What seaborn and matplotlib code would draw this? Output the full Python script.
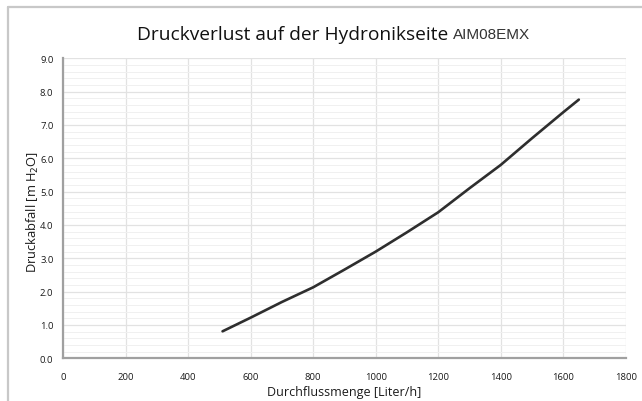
import matplotlib
matplotlib.use("Agg")
import matplotlib.pyplot as plt
from matplotlib.ticker import MultipleLocator, FormatStrFormatter
from matplotlib.lines import Line2D
import pandas as pd
import seaborn as sns

# Pressure drop curve on the hydronic side
flow_lph = [510, 600, 700, 800, 900, 1000, 1100, 1200, 1300, 1400, 1500, 1600, 1650]
pressure_drop_mh2o = [0.81, 1.22, 1.69, 2.13, 2.66, 3.20, 3.78, 4.38, 5.10,
                      5.80, 6.60, 7.38, 7.76]

x_ticks = [0, 200, 400, 600, 800, 1000, 1200, 1400, 1600, 1800]
y_ticks = [0.0, 1.0, 2.0, 3.0, 4.0, 5.0, 6.0, 7.0, 8.0, 9.0]

title_main = "Druckverlust auf der Hydronikseite "
title_model = "AIM08EMX"
x_label = "Durchflussmenge [Liter/h]"
y_label = "Druckabfall [m H$_2$O]"

df = pd.DataFrame({"flow": flow_lph, "drop": pressure_drop_mh2o})

sns.set_theme(style="white")
plt.rcParams["font.family"] = ["Open Sans", "DejaVu Sans"]

fig = plt.figure(figsize=(6.42, 4.02), dpi=100)
fig.patch.set_facecolor("white")
ax = fig.add_axes([0.0984, 0.1062, 0.8762, 0.7463])

# outer chart frame (left and top edges)
frame_kw = dict(transform=fig.transFigure, color="#c8c8c8", linewidth=1.6)
fig.lines.append(Line2D([8 / 642, 8 / 642], [0, 1 - 8 / 402], **frame_kw))
fig.lines.append(Line2D([8 / 642, 1], [1 - 8 / 402, 1 - 8 / 402], **frame_kw))

sns.lineplot(data=df, x="flow", y="drop", ax=ax, color="#2e2e2e",
             linewidth=1.9, legend=False)

ax.set_xlim(x_ticks[0], x_ticks[-1])
ax.set_ylim(y_ticks[0], y_ticks[-1])
ax.set_xticks(x_ticks)
ax.set_yticks(y_ticks)
ax.yaxis.set_major_formatter(FormatStrFormatter("%.1f"))
ax.xaxis.set_minor_locator(MultipleLocator(40))
ax.yaxis.set_minor_locator(MultipleLocator(0.2))

ax.grid(which="major", axis="both", color="#e2e2e2", linewidth=0.9)
ax.grid(which="minor", axis="y", color="#f0f0f0", linewidth=0.7)
ax.set_axisbelow(True)

for side in ["top", "right"]:
    ax.spines[side].set_visible(False)
for side in ["left", "bottom"]:
    ax.spines[side].set_color("#a0a0a0")
    ax.spines[side].set_linewidth(1.6)

ax.tick_params(axis="both", which="both", direction="in", colors="#909090",
               labelcolor="#1a1a1a", labelsize=6.8)
ax.tick_params(axis="both", which="major", length=3, width=1)
ax.tick_params(axis="both", which="minor", length=2, width=0.8)
ax.tick_params(axis="x", pad=10)
ax.tick_params(axis="y", pad=7)

ax.set_xlabel(x_label, fontsize=9, color="#1a1a1a", labelpad=3)
ax.set_ylabel(y_label, fontsize=9.3, color="#1a1a1a", labelpad=0)
ax.yaxis.set_label_coords(-0.040, 0.49)

fig.text(0.706, 0.912, title_main, ha="right", va="center",
         fontsize=13.8, color="#111111")
fig.text(0.706, 0.912, title_model, ha="left", va="center",
         fontsize=11, color="#333333", family=["Liberation Sans", "DejaVu Sans"])

fig.savefig("out.png", dpi=100, facecolor="white")
